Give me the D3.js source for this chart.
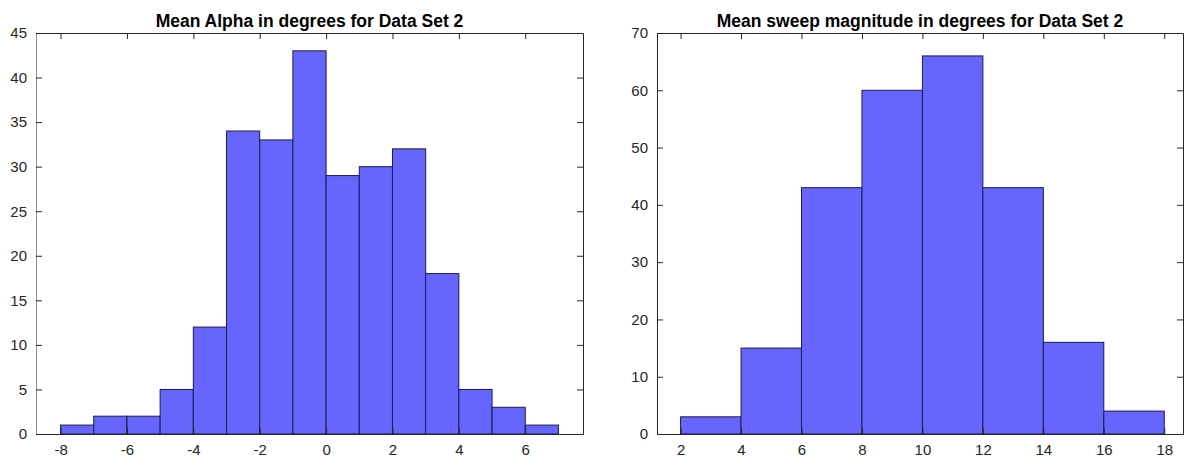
<!DOCTYPE html>
<html>
<head>
<meta charset="utf-8">
<script src="https://cdn.jsdelivr.net/npm/d3@7"></script>
<style>
  body { margin: 0; background: #fff; }
  svg { display: block; font-family: "Liberation Sans", Arial, sans-serif; }
</style>
</head>
<body>
<svg id="chart" width="1184" height="460"></svg>
<script>
// left histogram: mean alpha, bins of width 1
const alphaEdges = [-8, -7, -6, -5, -4, -3, -2, -1, 0, 1, 2, 3, 4, 5, 6, 7];
const alphaCounts = [1, 2, 2, 5, 12, 34, 33, 43, 29, 30, 32, 18, 5, 3, 1];
const alphaXTicks = [-8, -6, -4, -2, 0, 2, 4, 6];
const alphaYTicks = [0, 5, 10, 15, 20, 25, 30, 35, 40, 45];

// right histogram: sweep magnitude, bins of width 2
const sweepEdges = [2, 4, 6, 8, 10, 12, 14, 16, 18];
const sweepCounts = [3, 15, 43, 60, 66, 43, 16, 4];
const sweepXTicks = [2, 4, 6, 8, 10, 12, 14, 16, 18];
const sweepYTicks = [0, 10, 20, 30, 40, 50, 60, 70];

const svg = d3.select("#chart");
const barFill = "#6666ff";
const barStroke = "#1c1c4a";
const axisColor = "#262626";

function drawHist(opt) {
    const {left, right, top, bottom, xDomain, yMax, edges, counts, xTicks, yTicks, title, leftAxisColor} = opt;
    const x = d3.scaleLinear().domain(xDomain).range([left, right]);
    const y = d3.scaleLinear().domain([0, yMax]).range([bottom, top]);
    const g = svg.append("g");

    const bins = counts.map((c, i) => ({x0: edges[i], x1: edges[i + 1], n: c}));
    g.selectAll("rect")
        .data(bins)
        .join("rect")
        .attr("x", d => x(d.x0))
        .attr("y", d => y(d.n))
        .attr("width", d => x(d.x1) - x(d.x0))
        .attr("height", d => y(0) - y(d.n))
        .attr("fill", barFill)
        .attr("stroke", barStroke)
        .attr("stroke-width", 1);

    // axes with inner ticks, mirrored on top/right
    const tk = 6;
    const bot = g.append("g").attr("transform", `translate(0,${bottom})`)
        .call(d3.axisBottom(x).tickValues(xTicks).tickSize(-tk).tickPadding(10).tickSizeOuter(0));
    const topAx = g.append("g").attr("transform", `translate(0,${top})`)
        .call(d3.axisTop(x).tickValues(xTicks).tickSize(-tk).tickFormat("").tickSizeOuter(0));
    const lft = g.append("g").attr("transform", `translate(${left},0)`)
        .call(d3.axisLeft(y).tickValues(yTicks).tickSize(-tk).tickPadding(9).tickSizeOuter(0));
    const rgt = g.append("g").attr("transform", `translate(${right},0)`)
        .call(d3.axisRight(y).tickValues(yTicks).tickSize(-tk).tickFormat("").tickSizeOuter(0));

    [bot, topAx, lft, rgt].forEach(a => {
        a.selectAll("path").attr("stroke", axisColor);
        a.selectAll("line").attr("stroke", axisColor);
        a.selectAll("text")
            .attr("fill", "#262626")
            .style("font-size", "15px")
            .style("font-family", "'Liberation Sans', Arial, sans-serif");
    });
    lft.select("path").attr("stroke", leftAxisColor || axisColor);
    bot.selectAll("text").text(d => d < 0 ? "-" + Math.abs(d) : d);

    g.append("text")
        .attr("x", (left + right) / 2)
        .attr("y", top - 6)
        .attr("text-anchor", "middle")
        .attr("font-size", 17.5)
        .attr("font-weight", "bold")
        .attr("fill", "#000")
        .text(title);
}

drawHist({
    left: 36, right: 583, top: 33, bottom: 434,
    xDomain: [-8.74, 7.74], yMax: 45,
    edges: alphaEdges, counts: alphaCounts,
    xTicks: alphaXTicks, yTicks: alphaYTicks,
    title: "Mean Alpha in degrees for Data Set 2",
    leftAxisColor: "#8c8c8c"
});

drawHist({
    left: 657, right: 1183, top: 33, bottom: 434,
    xDomain: [1.22, 18.62], yMax: 70,
    edges: sweepEdges, counts: sweepCounts,
    xTicks: sweepXTicks, yTicks: sweepYTicks,
    title: "Mean sweep magnitude in degrees for Data Set 2"
});
</script>
</body>
</html>
